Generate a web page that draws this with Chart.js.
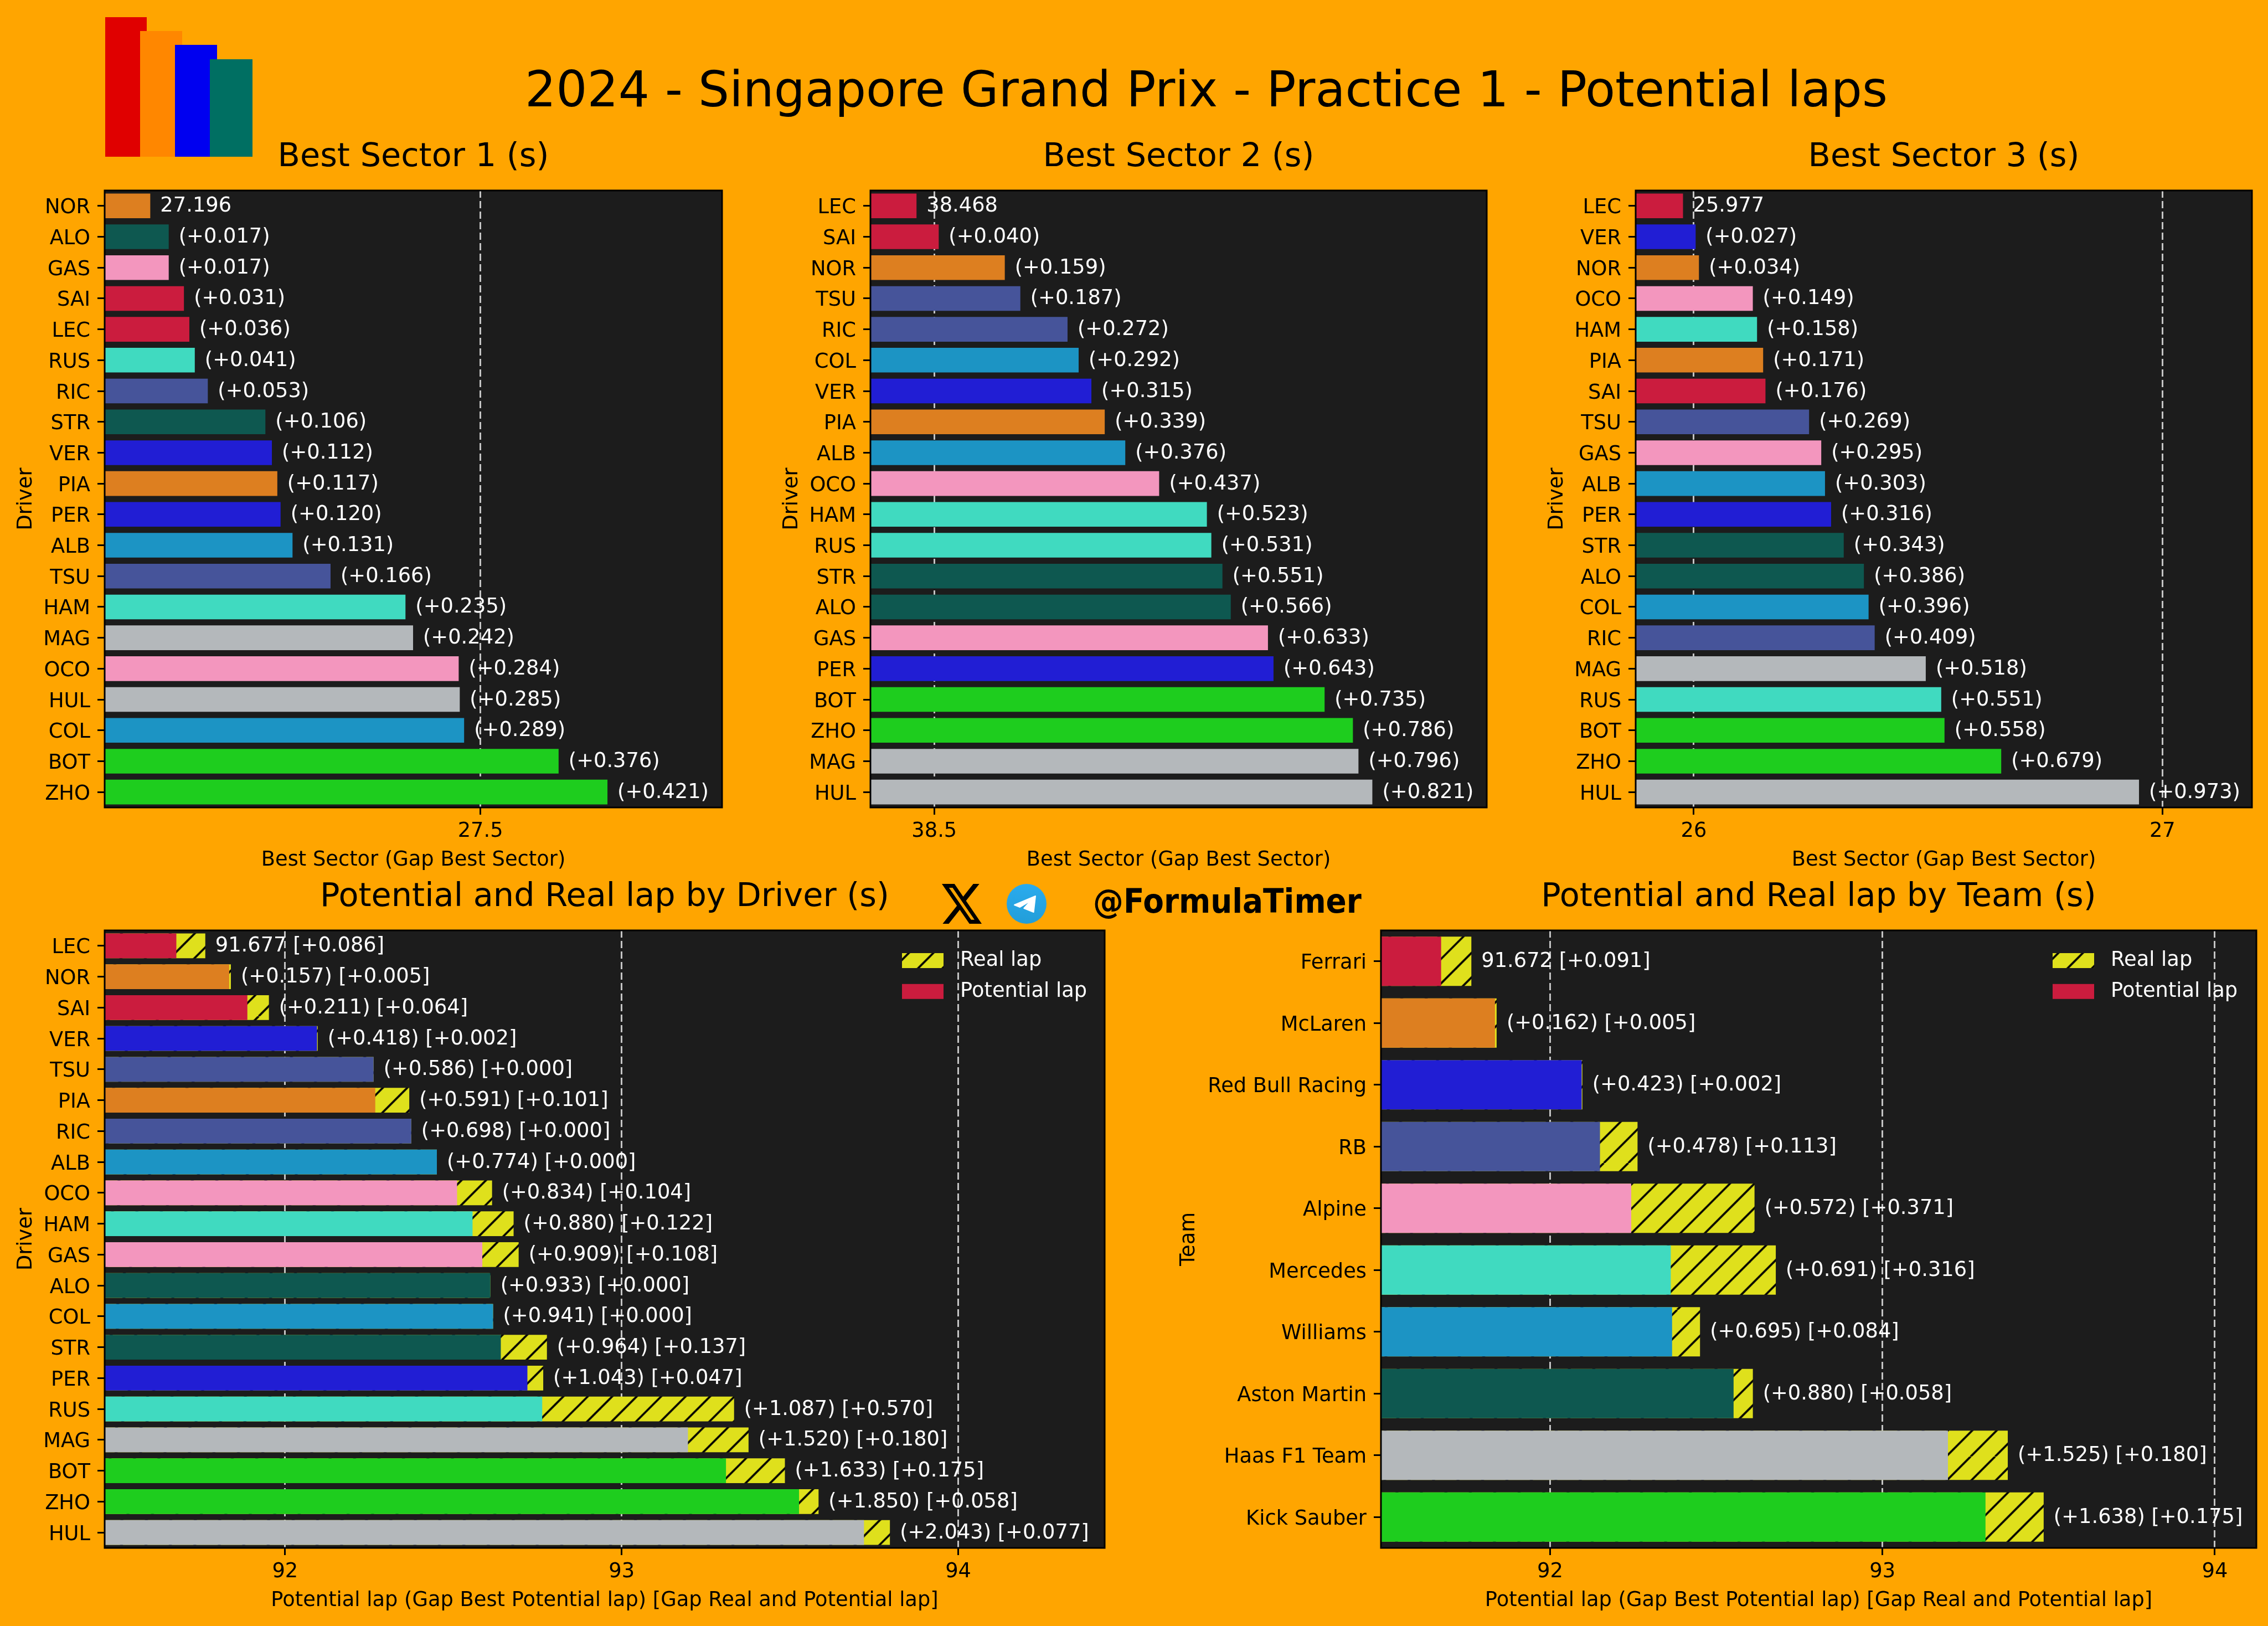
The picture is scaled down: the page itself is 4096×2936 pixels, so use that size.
<!DOCTYPE html>
<html>
<head>
<meta charset="utf-8">
<title>2024 - Singapore Grand Prix - Practice 1 - Potential laps</title>
<script src="https://cdn.jsdelivr.net/npm/chart.js@4"></script>
<style>
  html, body { margin: 0; padding: 0; background: #ffa500; }
  body { position: relative; width: 4096px; height: 2936px; overflow: hidden; font-family: "DejaVu Sans"; }
  canvas { position: absolute; }
  .logo { position: absolute; }
  #title { position: absolute; left: 948px; top: 112px; font-size: 88.4px; line-height: 100px; color: #000; white-space: nowrap; }
  #handle { position: absolute; left: 1974px; top: 1592px; font-size: 61px; line-height: 70px; font-weight: bold; color: #000; white-space: nowrap; transform: scaleX(0.9); transform-origin: left center; }
  svg { position: absolute; }
</style>
</head>
<body>
<div class="logo" style="left:190px;top:31px;width:75px;height:252px;background:#e00000"></div>
<div class="logo" style="left:253px;top:56px;width:76px;height:227px;background:#ff8700"></div>
<div class="logo" style="left:316px;top:81px;width:76px;height:202px;background:#0000f0"></div>
<div class="logo" style="left:379px;top:107px;width:77px;height:176px;background:#006f62"></div>
<div id="title">2024 - Singapore Grand Prix - Practice 1 - Potential laps</div>
<svg style="left:1701px;top:1596px" width="72" height="72" viewBox="1.254 2.25 21.573 19.5" preserveAspectRatio="none">
  <path fill="#000" d="M18.244 2.25h3.308l-7.227 8.26 8.502 11.24H16.17l-5.214-6.817L4.99 21.75H1.68l7.73-8.835L1.254 2.25H8.08l4.713 6.231zm-1.161 17.52h1.833L7.084 4.126H5.117z"/>
</svg>
<svg style="left:1818px;top:1596px" width="72" height="72" viewBox="0 0 72 72">
  <defs><linearGradient id="tg" x1="0" y1="0" x2="0" y2="1"><stop offset="0" stop-color="#2aabee"/><stop offset="1" stop-color="#229ed9"/></linearGradient></defs>
  <circle cx="36" cy="36" r="36" fill="url(#tg)"/>
  <path fill="#fff" stroke="#fff" stroke-width="2" stroke-linejoin="round" d="M14 38 L52 22 L48.7 51 L31.3 44 L44 30 L24 42 Z"/>
</svg>
<div id="handle">@FormulaTimer</div>

<script>
// Driver / team colours
const driverColors = {
  NOR: "#dd7f20", PIA: "#dd7f20",
  ALO: "#0e5850", STR: "#0e5850",
  GAS: "#f396be", OCO: "#f396be",
  SAI: "#cb1c3e", LEC: "#cb1c3e",
  RUS: "#40dac0", HAM: "#40dac0",
  RIC: "#46549a", TSU: "#46549a",
  VER: "#211ed4", PER: "#211ed4",
  ALB: "#1c94c4", COL: "#1c94c4",
  MAG: "#b4b8bb", HUL: "#b4b8bb",
  BOT: "#1ecd1e", ZHO: "#1ecd1e"
};
const teamColors = {
  "Ferrari": "#cb1c3e", "McLaren": "#dd7f20", "Red Bull Racing": "#211ed4", "RB": "#46549a",
  "Alpine": "#f396be", "Mercedes": "#40dac0", "Williams": "#1c94c4", "Aston Martin": "#0e5850",
  "Haas F1 Team": "#b4b8bb", "Kick Sauber": "#1ecd1e"
};

// Best sectors
const sector1Drivers = ["NOR","ALO","GAS","SAI","LEC","RUS","RIC","STR","VER","PIA","PER","ALB","TSU","HAM","MAG","OCO","HUL","COL","BOT","ZHO"];
const sector1Times = [27.196,27.213,27.213,27.227,27.232,27.237,27.249,27.302,27.308,27.313,27.316,27.327,27.362,27.431,27.438,27.480,27.481,27.485,27.572,27.617];
const sector1Ticks = [27.5];

const sector2Drivers = ["LEC","SAI","NOR","TSU","RIC","COL","VER","PIA","ALB","OCO","HAM","RUS","STR","ALO","GAS","PER","BOT","ZHO","MAG","HUL"];
const sector2Times = [38.468,38.508,38.627,38.655,38.740,38.760,38.783,38.807,38.844,38.905,38.991,38.999,39.019,39.034,39.101,39.111,39.203,39.254,39.264,39.289];
const sector2Ticks = [38.5];

const sector3Drivers = ["LEC","VER","NOR","OCO","HAM","PIA","SAI","TSU","GAS","ALB","PER","STR","ALO","COL","RIC","MAG","RUS","BOT","ZHO","HUL"];
const sector3Times = [25.977,26.004,26.011,26.126,26.135,26.148,26.153,26.246,26.272,26.280,26.293,26.320,26.363,26.373,26.386,26.495,26.528,26.535,26.656,26.950];
const sector3Ticks = [26, 27];

// Potential and real laps
const lapDrivers = ["LEC","NOR","SAI","VER","TSU","PIA","RIC","ALB","OCO","HAM","GAS","ALO","COL","STR","PER","RUS","MAG","BOT","ZHO","HUL"];
const driverPotential = [91.677,91.834,91.888,92.095,92.263,92.268,92.375,92.451,92.511,92.557,92.586,92.610,92.618,92.641,92.720,92.764,93.197,93.310,93.527,93.720];
const driverReal = [91.763,91.839,91.952,92.097,92.263,92.369,92.375,92.451,92.615,92.679,92.694,92.610,92.618,92.778,92.767,93.334,93.377,93.485,93.585,93.797];

const lapTeams = ["Ferrari","McLaren","Red Bull Racing","RB","Alpine","Mercedes","Williams","Aston Martin","Haas F1 Team","Kick Sauber"];
const teamPotential = [91.672,91.834,92.095,92.150,92.244,92.363,92.367,92.552,93.197,93.310];
const teamReal = [91.763,91.839,92.097,92.263,92.615,92.679,92.451,92.610,93.377,93.485];
const lapTicks = [92, 93, 94];

const SIZE_TICK = 36.8;
const SIZE_TITLE = 58.9;
const FONT = "DejaVu Sans";

// '/' hatch used for the real lap bars, six lines per 265px tile
function hatchPattern(shift) {
  const size = 265;
  const tile = document.createElement("canvas");
  tile.width = size;
  tile.height = size;
  const c = tile.getContext("2d");
  c.fillStyle = "#dfe01c";
  c.fillRect(0, 0, size, size);
  c.strokeStyle = "#000";
  c.lineWidth = 3.7;
  for (let k = -6; k <= 6; k++) {
    const at = k * size / 6;
    c.beginPath();
    c.moveTo(at, size);
    c.lineTo(at + size, 0);
    c.stroke();
  }
  const p = c.createPattern(tile, "repeat");
  p.setTransform(new DOMMatrix().translate(shift, 0));
  return p;
}

const sectorLabels = times => times.map((t, i) => i == 0 ? t.toFixed(3) : "(+" + (t - times[0]).toFixed(3) + ")");
const lapLabels = (pot, real) => pot.map((t, i) => {
  const gap = "[+" + (real[i] - t).toFixed(3) + "]";
  return (i == 0 ? t.toFixed(3) : "(+" + (t - pot[0]).toFixed(3) + ")") + " " + gap;
});

function makePanel(p) {
  const yWidth = p.yWidth || 189;
  const xHeight = 120;
  const topBlock = 110;
  const x0 = p.left - yWidth;
  const y0 = p.top - topBlock;
  const canvas = document.createElement("canvas");
  canvas.width = p.right - x0 + 8;
  canvas.height = p.bottom - y0 + xHeight;
  canvas.style.left = x0 + "px";
  canvas.style.top = y0 + "px";
  document.body.appendChild(canvas);

  const barColor = c => p.colors[c.dataIndex] || p.colors[0];
  const datasets = [];
  if (p.real) {
    datasets.push({ label: "Real lap", data: p.real, backgroundColor: hatchPattern(p.hatchShift), order: 2, grouped: false });
  }
  datasets.push({ label: "Potential lap", data: p.values, backgroundColor: barColor, order: 1, grouped: false });

  const panelPlugin = {
    id: "panelExtras",
    beforeDraw(chart) {
      const a = chart.chartArea;
      chart.ctx.fillStyle = "#1c1c1c";
      chart.ctx.fillRect(a.left, a.top, a.width, a.height);
    },
    afterUpdate(chart) {
      if (p.real) {
        chart.legend.left = p.legendX - x0 - 19;
        chart.legend.top = chart.chartArea.top + 17;
      }
    },
    afterDatasetsDraw(chart) {
      const ctx = chart.ctx, a = chart.chartArea;
      const ends = p.real || p.values;
      ctx.save();
      ctx.font = SIZE_TICK + "px '" + FONT + "'";
      ctx.fillStyle = "#fff";
      ctx.textAlign = "left";
      ctx.textBaseline = "middle";
      p.labels.forEach((t, i) => {
        ctx.fillText(t, chart.scales.x.getPixelForValue(ends[i]) + 18, chart.scales.y.getPixelForValue(i) + 1);
      });
      ctx.strokeStyle = "#000";
      ctx.lineWidth = 3;
      ctx.strokeRect(a.left, a.top, a.width, a.height);
      ctx.restore();
    }
  };

  return new Chart(canvas.getContext("2d"), {
    type: "bar",
    data: { labels: p.names, datasets: datasets },
    plugins: [panelPlugin],
    options: {
      indexAxis: "y",
      responsive: false,
      animation: false,
      devicePixelRatio: 1,
      barPercentage: 0.8,
      categoryPercentage: 1,
      layout: { autoPadding: false, padding: { right: 8 } },
      font: { family: FONT },
      plugins: {
        tooltip: { enabled: false },
        title: {
          display: true,
          text: p.title,
          fullSize: false,
          color: "#000",
          font: { family: FONT, size: SIZE_TITLE, weight: "normal", lineHeight: 1.2 },
          padding: { top: 15.3, bottom: 24 }
        },
        legend: {
          display: !!p.real,
          position: "chartArea",
          align: "start",
          labels: {
            color: "#fff",
            boxWidth: 75,
            boxHeight: 27,
            padding: 19,
            font: { family: FONT, size: SIZE_TICK },
            sort: (a, b) => a.datasetIndex - b.datasetIndex,
            // matplotlib leaves a wider gap between patch and text
            generateLabels(chart) {
              return Chart.defaults.plugins.legend.labels.generateLabels(chart).map(item => {
                item.text = " " + item.text;
                return item;
              });
            }
          }
        }
      },
      scales: {
        x: {
          type: "linear",
          min: p.min,
          max: p.max,
          afterBuildTicks(scale) { scale.ticks = p.ticks.map(v => ({ value: v })); },
          afterFit(scale) { scale.height = xHeight; },
          ticks: {
            color: "#000",
            font: { family: FONT, size: SIZE_TICK },
            padding: 8,
            maxRotation: 0,
            autoSkip: false,
            callback: v => String(v)
          },
          grid: { color: "#c4c4c4", lineWidth: 3, tickColor: "#000", tickWidth: 3, tickLength: 13, z: -1 },
          border: { display: false, dash: [13, 6] },
          title: {
            display: true,
            text: p.xTitle,
            color: "#000",
            font: { family: FONT, size: SIZE_TICK, lineHeight: 1.2 },
            padding: { top: 0, bottom: 2.4 }
          }
        },
        y: {
          type: "category",
          afterFit(scale) { scale.width = yWidth; },
          ticks: { color: "#000", font: { family: FONT, size: SIZE_TICK }, padding: 13, labelOffset: 4, autoSkip: false },
          grid: { offset: false, drawOnChartArea: false, tickColor: "#000", tickWidth: 3, tickLength: 13 },
          border: { display: false },
          title: {
            display: true,
            text: p.yTitle,
            color: "#000",
            font: { family: FONT, size: SIZE_TICK, lineHeight: 1.2 },
            padding: { top: 25, bottom: 0 }
          }
        }
      }
    }
  });
}

const sectorAxis = "Best Sector (Gap Best Sector)";
const lapAxis = "Potential lap (Gap Best Potential lap) [Gap Real and Potential lap]";
const colorsOf = names => names.map(n => driverColors[n]);

makePanel({ title: "Best Sector 1 (s)", names: sector1Drivers, values: sector1Times, colors: colorsOf(sector1Drivers),
  labels: sectorLabels(sector1Times), ticks: sector1Ticks, min: 27.154, max: 27.7225,
  left: 189, right: 1304, top: 344, bottom: 1458, xTitle: sectorAxis, yTitle: "Driver" });
makePanel({ title: "Best Sector 2 (s)", names: sector2Drivers, values: sector2Times, colors: colorsOf(sector2Drivers),
  labels: sectorLabels(sector2Times), ticks: sector2Ticks, min: 38.385, max: 39.495,
  left: 1572, right: 2685, top: 344, bottom: 1458, xTitle: sectorAxis, yTitle: "Driver" });
makePanel({ title: "Best Sector 3 (s)", names: sector3Drivers, values: sector3Times, colors: colorsOf(sector3Drivers),
  labels: sectorLabels(sector3Times), ticks: sector3Ticks, min: 25.876, max: 27.191,
  left: 2954, right: 4067, top: 344, bottom: 1458, xTitle: sectorAxis, yTitle: "Driver" });
makePanel({ title: "Potential and Real lap by Driver (s)", names: lapDrivers, values: driverPotential, real: driverReal,
  colors: colorsOf(lapDrivers), labels: lapLabels(driverPotential, driverReal), ticks: lapTicks, min: 91.464, max: 94.435,
  left: 189, right: 1995, top: 1680, bottom: 2795, xTitle: lapAxis, yTitle: "Driver", hatchShift: 25.5, legendX: 1629 });
makePanel({ title: "Potential and Real lap by Team (s)", names: lapTeams, values: teamPotential, real: teamReal,
  colors: lapTeams.map(n => teamColors[n]), labels: lapLabels(teamPotential, teamReal), ticks: lapTicks, min: 91.491, max: 94.125,
  left: 2494, right: 4075, top: 1680, bottom: 2795, yWidth: 394, xTitle: lapAxis, yTitle: "Team", hatchShift: 1.5, legendX: 3707 });
</script>
</body>
</html>
